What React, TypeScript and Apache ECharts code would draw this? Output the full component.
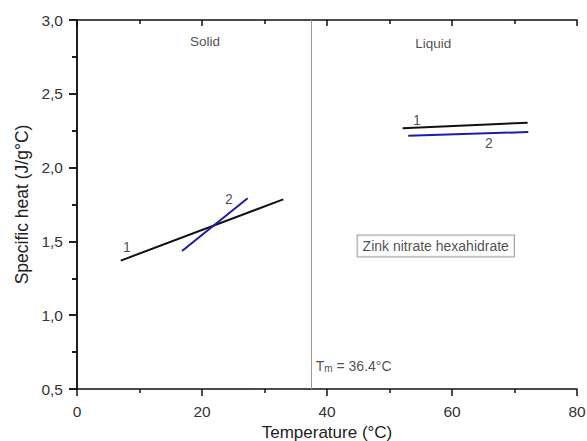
import React, { useEffect, useRef } from "react";
import * as echarts from "echarts";

const solid1: [number, number][] = [[7.0, 1.37], [33.0, 1.785]];
const solid2: [number, number][] = [[16.8, 1.435], [27.3, 1.792]];
const liquid1: [number, number][] = [[52.1, 2.266], [72.1, 2.304]];
const liquid2: [number, number][] = [[53.0, 2.216], [72.2, 2.241]];
const meltingLineX = 37.5;
const meltingLabel = "T{sub|m} = 36.4°C";

const phaseLabels = [
  { name: "Solid", value: [20.5, 2.851] },
  { name: "Liquid", value: [57.0, 2.844] },
];
const curveLabels = [
  { name: "1", value: [8.0, 1.462] },
  { name: "2", value: [24.3, 1.787] },
  { name: "1", value: [54.4, 2.322] },
  { name: "2", value: [65.9, 2.167] },
];
const boxLabel = [{ name: "Zink nitrate hexahidrate", value: [57.4, 1.469] }];
const tmLabel = [{ name: meltingLabel, value: [38.2, 0.656] }];

const FONT = "Liberation Sans, Arial, sans-serif";

export default function App() {
  const ref = useRef<HTMLDivElement>(null);
  useEffect(() => {
    if (!ref.current) return;
    const chart = echarts.init(ref.current, undefined, { renderer: "svg" });
    const axisLine = { show: true, lineStyle: { color: "#111", width: 1.5 } };
    const labelStyle = { color: "#333", fontSize: 15.5, fontFamily: FONT };
    const black = "#111";
    const blue = "#1c1ca8";
    const lineSeries = (data: [number, number][], color: string, extra: any = {}) => ({
      type: "line",
      data,
      showSymbol: false,
      symbol: "none",
      lineStyle: { color, width: 2 },
      silent: true,
      ...extra,
    });
    const textSeries = (data: any[], label: any) => ({
      type: "scatter",
      data,
      symbolSize: 0,
      silent: true,
      itemStyle: { color: "#222" },
      label: { show: true, position: "inside", formatter: "{b}", fontFamily: FONT, color: "#222", ...label },
    });
    chart.setOption({
      animation: false,
      backgroundColor: "#fff",
      grid: { left: 77, right: 10, top: 20, bottom: 52, outerBoundsMode: "none", containLabel: false },
      xAxis: [
        {
          type: "value",
          min: 0,
          max: 80,
          interval: 20,
          position: "bottom",
          axisLine,
          axisTick: { show: true, inside: false, length: 7, lineStyle: { color: "#111", width: 1.5 } },
          minorTick: { show: true, splitNumber: 2, length: 4, lineStyle: { color: "#111", width: 1.5 } },
          axisLabel: { ...labelStyle, margin: 14 },
          splitLine: { show: false },
          name: "Temperature (°C)",
          nameLocation: "middle",
          nameGap: 30,
          nameTextStyle: { color: "#222", fontSize: 17, lineHeight: 18, fontFamily: FONT },
        },
        {
          type: "value",
          min: 0,
          max: 80,
          interval: 20,
          position: "top",
          axisLine,
          axisTick: { show: true, inside: true, length: 6, lineStyle: { color: "#111", width: 1.5 } },
          minorTick: { show: true, splitNumber: 2, length: 4, lineStyle: { color: "#111", width: 1.5 } },
          axisLabel: { show: false },
          splitLine: { show: false },
        },
      ],
      yAxis: [
        {
          type: "value",
          min: 0.5,
          max: 3.0,
          interval: 0.5,
          position: "left",
          axisLine,
          axisTick: { show: true, inside: false, length: 8, lineStyle: { color: "#111", width: 1.5 } },
          minorTick: { show: true, splitNumber: 2, length: 5, lineStyle: { color: "#111", width: 1.5 } },
          axisLabel: { ...labelStyle, margin: 14, formatter: (v: number) => v.toFixed(1).replace(".", ",") },
          splitLine: { show: false },
          name: "Specific heat (J/g°C)",
          nameLocation: "middle",
          nameGap: 44,
          nameTextStyle: { color: "#222", fontSize: 17.5, fontFamily: FONT },
        },
        {
          type: "value",
          min: 0.5,
          max: 3.0,
          interval: 0.5,
          position: "right",
          axisLine,
          axisTick: { show: true, inside: true, length: 8, lineStyle: { color: "#111", width: 1.5 } },
          minorTick: { show: true, splitNumber: 2, length: 5, lineStyle: { color: "#111", width: 1.5 } },
          axisLabel: { show: false },
          splitLine: { show: false },
        },
      ],
      series: [
        lineSeries(solid1, black, {
          markLine: {
            silent: true,
            symbol: "none",
            label: { show: false },
            lineStyle: { color: "#999", width: 1, type: "solid" },
            data: [{ xAxis: meltingLineX }],
          },
        }),
        lineSeries(solid2, blue),
        lineSeries(liquid1, black),
        lineSeries(liquid2, blue),
        textSeries(phaseLabels, { fontSize: 13.5 }),
        textSeries(curveLabels, { fontSize: 14 }),
        textSeries(boxLabel, {
          fontSize: 14,
          borderColor: "#888",
          borderWidth: 1,
          padding: [4, 5, 3, 5],
          backgroundColor: "#fff",
        }),
        textSeries(tmLabel, {
          position: "right",
          distance: 0,
          fontSize: 14,
          rich: { sub: { fontSize: 10, verticalAlign: "bottom", color: "#222", padding: [6, 0, 0, 0], fontFamily: FONT } },
        }),
      ],
    });
    return () => chart.dispose();
  }, []);
  return <div ref={ref} style={{ width: 587, height: 441, position: "absolute", left: 0, top: 0 }} />;
}
